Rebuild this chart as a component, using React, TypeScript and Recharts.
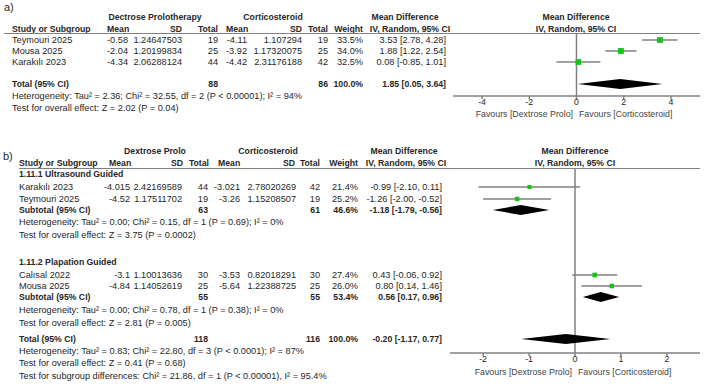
import React from 'react';
import { ScatterChart, Scatter, XAxis, YAxis, ErrorBar, ReferenceLine } from 'recharts';

const FONT = '"Liberation Sans", Arial, sans-serif';
const INK = '#262626';
const RULE = '#808080';
const BOX = '#17c317';
const FS = 9.2;
const FS_HEAD = 8.7;
const FS_AXIS = 8.8;

// a) all studies
const A_STUDY = ['Teymouri 2025', 'Mousa 2025', 'Karakılı 2023'];
const A_DEX_MEAN = ['-0.58', '-2.04', '-4.34'];
const A_DEX_SD = ['1.24647503', '1.20199834', '2.06288124'];
const A_DEX_N = [19, 25, 44];
const A_COR_MEAN = ['-4.11', '-3.92', '-4.42'];
const A_COR_SD = ['1.107294', '1.17320075', '2.31176188'];
const A_COR_N = [19, 25, 42];
const A_WEIGHT = [33.5, 34.0, 32.5];
const A_MD = [3.53, 1.88, 0.08];
const A_LO = [2.78, 1.22, -0.85];
const A_HI = [4.28, 2.54, 1.01];
const A_TOTAL = [1.85, 0.05, 3.64];
const A_TOTAL_N = [88, 86];
const A_TICKS = [-4, -2, 0, 2, 4];
const A_NOTES = [
  'Heterogeneity: Tau² = 2.36; Chi² = 32.55, df = 2 (P < 0.00001); I² = 94%',
  'Test for overall effect: Z = 2.02 (P = 0.04)',
];

// b) split by guidance
const B_GROUPS = ['1.11.1 Ultrasound Guided', '1.11.2 Plapation Guided'];
const B_STUDY = ['Karakılı 2023', 'Teymouri 2025', 'Calısal 2022', 'Mousa 2025'];
const B_DEX_MEAN = ['-4.015', '-4.52', '-3.1', '-4.84'];
const B_DEX_SD = ['2.42169589', '1.17511702', '1.10013636', '1.14052619'];
const B_DEX_N = [44, 19, 30, 25];
const B_COR_MEAN = ['-3.021', '-3.26', '-3.53', '-5.64'];
const B_COR_SD = ['2.78020269', '1.15208507', '0.82018291', '1.22388725'];
const B_COR_N = [42, 19, 30, 25];
const B_WEIGHT = [21.4, 25.2, 27.4, 26.0];
const B_MD = [-0.99, -1.26, 0.43, 0.8];
const B_LO = [-2.1, -2.0, -0.06, 0.14];
const B_HI = [0.11, -0.52, 0.92, 1.46];
const B_SUB_MD = [-1.18, 0.56];
const B_SUB_LO = [-1.79, 0.17];
const B_SUB_HI = [-0.56, 0.96];
const B_SUB_DEX_N = [63, 55];
const B_SUB_COR_N = [61, 55];
const B_SUB_WEIGHT = [46.6, 53.4];
const B_SUB_NOTES = [
  ['Heterogeneity: Tau² = 0.00; Chi² = 0.15, df = 1 (P = 0.69); I² = 0%', 'Test for overall effect: Z = 3.75 (P = 0.0002)'],
  ['Heterogeneity: Tau² = 0.00; Chi² = 0.78, df = 1 (P = 0.38); I² = 0%', 'Test for overall effect: Z = 2.81 (P = 0.005)'],
];
const B_TOTAL = [-0.2, -1.17, 0.77];
const B_TOTAL_N = [118, 116];
const B_TICKS = [-2, -1, 0, 1, 2];
const B_NOTES = [
  'Heterogeneity: Tau² = 0.83; Chi² = 22.80, df = 3 (P < 0.0001); I² = 87%',
  'Test for overall effect: Z = 0.41 (P = 0.68)',
  'Test for subgroup differences: Chi² = 21.86, df = 1 (P < 0.00001), I² = 95.4%',
];

// row layout (page y of each text line)
const A_ROW_Y = [40, 51, 62];
const A_TOTAL_Y = 84;
const A_NOTE_Y = [96, 108];
const B_GROUP_Y = [174, 262];
const B_ROW_Y = [187, 199, 275, 286];
const B_SUB_Y = [210, 297];
const B_SUB_NOTE_Y = [[222, 235], [310, 323]];
const B_TOTAL_Y = 339;
const B_NOTE_Y = [351, 363, 376];

const fmt = (v: number) => v.toFixed(2);
const ci = (m: number, l: number, h: number) => `${fmt(m)} [${fmt(l)}, ${fmt(h)}]`;
const pct = (w: number) => `${w.toFixed(1)}%`;

type Align = 'left' | 'right' | 'center';

const T = ({ x, y, children, align = 'left', bold = false, size, color = INK }: {
  x: number; y: number; children: React.ReactNode; align?: Align; bold?: boolean; size?: number; color?: string;
}) => {
  const w = 420;
  const left = align === 'left' ? x : align === 'right' ? x - w : x - w / 2;
  return (
    <div
      style={{
        position: 'absolute', left, top: y - 5, width: w, height: 10, lineHeight: '10px',
        textAlign: align, fontSize: size ?? (bold ? FS_HEAD : FS), fontWeight: bold ? 700 : 400, color,
        whiteSpace: 'nowrap', fontFamily: FONT,
      }}
    >
      {children}
    </div>
  );
};

type Study = { x: number; y: number; err: [number, number]; weight: number };
type Pooled = { md: number; lo: number; hi: number; y: number };

const DIAMOND_HALF = 5;

const diamondPoints = (d: Pooled) => [
  { x: d.lo, y: d.y },
  { x: d.md, y: d.y - DIAMOND_HALF },
  { x: d.hi, y: d.y },
  { x: d.md, y: d.y + DIAMOND_HALF },
];

const Box = (p: any) => {
  const s = Math.sqrt(p.payload.weight) * p.boxScale;
  return <rect x={p.cx - s / 2} y={p.cy - s / 2} width={s} height={s} fill={BOX} />;
};

const DiamondFill = (lp: any) => (
  <polygon points={(lp.points || []).map((q: any) => `${q.x},${q.y}`).join(' ')} fill="#000" stroke="none" />
);

const Forest = ({ left, top, width, height, plotTop, plotBottom, marginLeft, marginRight, domain, ticks, studies, pooled, boxScale }: {
  left: number; top: number; width: number; height: number; plotTop: number; plotBottom: number;
  marginLeft: number; marginRight: number; domain: [number, number]; ticks: number[];
  studies: Study[]; pooled: Pooled[]; boxScale: number;
}) => {
  const axisH = 18;
  return (
    <div style={{ position: 'absolute', left, top }}>
      <ScatterChart
        width={width}
        height={height}
        margin={{ top: plotTop - top, right: marginRight, left: marginLeft, bottom: top + height - plotBottom - axisH }}
      >
        <XAxis
          type="number"
          dataKey="x"
          domain={domain}
          ticks={ticks}
          allowDataOverflow
          height={axisH}
          axisLine={{ stroke: RULE, strokeWidth: 1.5 }}
          tickLine={{ stroke: RULE, strokeWidth: 1.5 }}
          tickSize={3}
          tickMargin={0}
          tick={{ fontSize: FS_AXIS, fill: INK, fontFamily: FONT }}
        />
        <YAxis type="number" dataKey="y" domain={[plotTop, plotBottom]} reversed hide />
        <ReferenceLine x={0} stroke={RULE} strokeWidth={1.5} />
        {pooled.map((d, i) => (
          <Scatter
            key={`d${i}`}
            data={diamondPoints(d)}
            shape={() => <g />}
            line={DiamondFill}
            lineType="joint"
            isAnimationActive={false}
          />
        ))}
        <Scatter data={studies} shape={(p: any) => <Box {...p} boxScale={boxScale} />} isAnimationActive={false}>
          <ErrorBar dataKey="err" direction="x" width={0} stroke={RULE} strokeWidth={1.5} isAnimationActive={false} />
        </Scatter>
      </ScatterChart>
    </div>
  );
};

const Rule = ({ x1, x2, y }: { x1: number; x2: number; y: number }) => (
  <div style={{ position: 'absolute', left: x1, top: y, width: x2 - x1, height: 0, borderTop: `1.5px solid ${RULE}` }} />
);

const App = () => {
  const aStudies: Study[] = A_MD.map((m, i) => ({ x: m, y: A_ROW_Y[i], err: [m - A_LO[i], A_HI[i] - m], weight: A_WEIGHT[i] }));
  const aPooled: Pooled[] = [{ md: A_TOTAL[0], lo: A_TOTAL[1], hi: A_TOTAL[2], y: A_TOTAL_Y }];
  const bStudies: Study[] = B_MD.map((m, i) => ({ x: m, y: B_ROW_Y[i], err: [m - B_LO[i], B_HI[i] - m], weight: B_WEIGHT[i] }));
  const bPooled: Pooled[] = [
    ...B_SUB_MD.map((m, g) => ({ md: m, lo: B_SUB_LO[g], hi: B_SUB_HI[g], y: B_SUB_Y[g] })),
    { md: B_TOTAL[0], lo: B_TOTAL[1], hi: B_TOTAL[2], y: B_TOTAL_Y },
  ];

  return (
    <div style={{ position: 'absolute', left: 0, top: 0, width: 709, height: 386, background: '#fff', overflow: 'hidden', fontFamily: FONT }}>
      {/* a) */}
      <T x={4} y={7} size={11}>a)</T>
      <T x={155} y={17} align="center" bold>Dectrose Prolotherapy</T>
      <T x={273} y={17} align="center" bold>Corticosteroid</T>
      <T x={405} y={17} align="center" bold>Mean Difference</T>
      <T x={576} y={17} align="center" bold>Mean Difference</T>
      <T x={12} y={29} bold>Study or Subgroup</T>
      <T x={107} y={29} bold>Mean</T>
      <T x={182} y={29} align="right" bold>SD</T>
      <T x={218} y={29} align="right" bold>Total</T>
      <T x={226} y={29} bold>Mean</T>
      <T x={302} y={29} align="right" bold>SD</T>
      <T x={328} y={29} align="right" bold>Total</T>
      <T x={363} y={29} align="right" bold>Weight</T>
      <T x={410} y={29} align="center" bold>IV, Random, 95% CI</T>
      <T x={576} y={29} align="center" bold>IV, Random, 95% CI</T>
      <Rule x1={4} x2={700} y={33} />
      {A_STUDY.map((s, i) => (
        <React.Fragment key={s}>
          <T x={12} y={A_ROW_Y[i]}>{s}</T>
          <T x={128} y={A_ROW_Y[i]} align="right">{A_DEX_MEAN[i]}</T>
          <T x={182} y={A_ROW_Y[i]} align="right">{A_DEX_SD[i]}</T>
          <T x={218} y={A_ROW_Y[i]} align="right">{A_DEX_N[i]}</T>
          <T x={247} y={A_ROW_Y[i]} align="right">{A_COR_MEAN[i]}</T>
          <T x={302} y={A_ROW_Y[i]} align="right">{A_COR_SD[i]}</T>
          <T x={328} y={A_ROW_Y[i]} align="right">{A_COR_N[i]}</T>
          <T x={363} y={A_ROW_Y[i]} align="right">{pct(A_WEIGHT[i])}</T>
          <T x={446} y={A_ROW_Y[i]} align="right">{ci(A_MD[i], A_LO[i], A_HI[i])}</T>
        </React.Fragment>
      ))}
      <T x={12} y={A_TOTAL_Y} bold>Total (95% CI)</T>
      <T x={218} y={A_TOTAL_Y} align="right" bold>{A_TOTAL_N[0]}</T>
      <T x={328} y={A_TOTAL_Y} align="right" bold>{A_TOTAL_N[1]}</T>
      <T x={363} y={A_TOTAL_Y} align="right" bold>{pct(100)}</T>
      <T x={446} y={A_TOTAL_Y} align="right" bold>{ci(A_TOTAL[0], A_TOTAL[1], A_TOTAL[2])}</T>
      {A_NOTES.map((n, i) => <T key={n} x={12} y={A_NOTE_Y[i]}>{n}</T>)}
      <Forest
        left={440} top={0} width={269} height={125} plotTop={33} plotBottom={96}
        marginLeft={13} marginRight={9} domain={[-5.23, 5.23]} ticks={A_TICKS}
        studies={aStudies} pooled={aPooled} boxScale={1.0}
      />
      <T x={573} y={114} align="right" color="#444" size={FS_AXIS}>Favours [Dextrose Prolo]</T>
      <T x={579} y={114} color="#444" size={FS_AXIS}>Favours [Corticosteroid]</T>

      {/* b) */}
      <T x={3} y={156} size={11}>b)</T>
      <T x={155} y={151} align="center" bold>Dextrose Prolo</T>
      <T x={268} y={151} align="center" bold>Corticosteroid</T>
      <T x={404} y={151} align="center" bold>Mean Difference</T>
      <T x={575} y={151} align="center" bold>Mean Difference</T>
      <T x={19} y={163} bold>Study or Subgroup</T>
      <T x={109} y={163} bold>Mean</T>
      <T x={183} y={163} align="right" bold>SD</T>
      <T x={209} y={163} align="right" bold>Total</T>
      <T x={218} y={163} bold>Mean</T>
      <T x={295} y={163} align="right" bold>SD</T>
      <T x={320} y={163} align="right" bold>Total</T>
      <T x={358} y={163} align="right" bold>Weight</T>
      <T x={406} y={163} align="center" bold>IV, Random, 95% CI</T>
      <T x={575} y={163} align="center" bold>IV, Random, 95% CI</T>
      <Rule x1={19} x2={700} y={168} />
      {B_GROUPS.map((g, gi) => (
        <React.Fragment key={g}>
          <T x={19} y={B_GROUP_Y[gi]} bold>{g}</T>
          {B_STUDY.map((s, i) => (Math.floor(i / 2) !== gi ? null : (
            <React.Fragment key={s}>
              <T x={19} y={B_ROW_Y[i]}>{s}</T>
              <T x={130} y={B_ROW_Y[i]} align="right">{B_DEX_MEAN[i]}</T>
              <T x={182} y={B_ROW_Y[i]} align="right">{B_DEX_SD[i]}</T>
              <T x={208} y={B_ROW_Y[i]} align="right">{B_DEX_N[i]}</T>
              <T x={240} y={B_ROW_Y[i]} align="right">{B_COR_MEAN[i]}</T>
              <T x={296} y={B_ROW_Y[i]} align="right">{B_COR_SD[i]}</T>
              <T x={320} y={B_ROW_Y[i]} align="right">{B_COR_N[i]}</T>
              <T x={358} y={B_ROW_Y[i]} align="right">{pct(B_WEIGHT[i])}</T>
              <T x={442} y={B_ROW_Y[i]} align="right">{ci(B_MD[i], B_LO[i], B_HI[i])}</T>
            </React.Fragment>
          )))}
          <T x={19} y={B_SUB_Y[gi]} bold>Subtotal (95% CI)</T>
          <T x={208} y={B_SUB_Y[gi]} align="right" bold>{B_SUB_DEX_N[gi]}</T>
          <T x={320} y={B_SUB_Y[gi]} align="right" bold>{B_SUB_COR_N[gi]}</T>
          <T x={358} y={B_SUB_Y[gi]} align="right" bold>{pct(B_SUB_WEIGHT[gi])}</T>
          <T x={442} y={B_SUB_Y[gi]} align="right" bold>{ci(B_SUB_MD[gi], B_SUB_LO[gi], B_SUB_HI[gi])}</T>
          {B_SUB_NOTES[gi].map((n, k) => <T key={n} x={19} y={B_SUB_NOTE_Y[gi][k]}>{n}</T>)}
        </React.Fragment>
      ))}
      <T x={19} y={B_TOTAL_Y} bold>Total (95% CI)</T>
      <T x={208} y={B_TOTAL_Y} align="right" bold>{B_TOTAL_N[0]}</T>
      <T x={320} y={B_TOTAL_Y} align="right" bold>{B_TOTAL_N[1]}</T>
      <T x={358} y={B_TOTAL_Y} align="right" bold>{pct(100)}</T>
      <T x={442} y={B_TOTAL_Y} align="right" bold>{ci(B_TOTAL[0], B_TOTAL[1], B_TOTAL[2])}</T>
      {B_NOTES.map((n, i) => <T key={n} x={19} y={B_NOTE_Y[i]}>{n}</T>)}
      <Forest
        left={440} top={140} width={269} height={246} plotTop={168} plotBottom={353}
        marginLeft={10} marginRight={9} domain={[-2.72, 2.72]} ticks={B_TICKS}
        studies={bStudies} pooled={bPooled} boxScale={0.9}
      />
      <T x={572} y={372} align="right" color="#444" size={FS_AXIS}>Favours [Dextrose Prolo]</T>
      <T x={578} y={372} color="#444" size={FS_AXIS}>Favours [Corticosteroid]</T>
    </div>
  );
};

export default App;
